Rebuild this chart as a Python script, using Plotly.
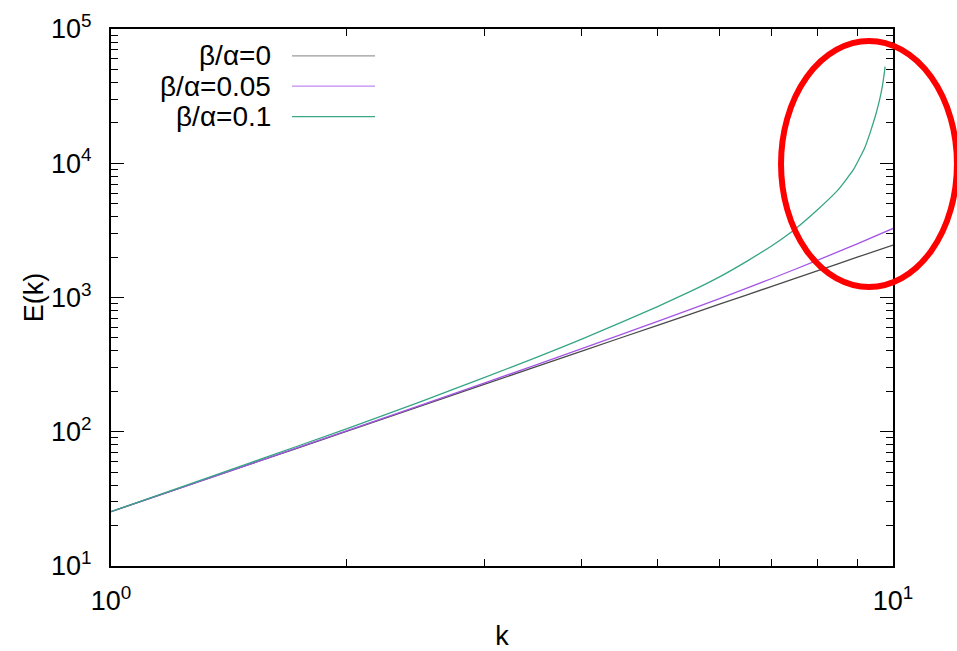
import plotly.graph_objects as go

# Energy spectrum E(k) for three ratios beta/alpha (log-log)
k_base = [1.0, 1.5, 2.0, 3.0, 4.0, 5.0, 6.0, 7.0, 8.0, 9.0, 10.0]
E_b0 = [25.4, 56.8, 100.6, 225, 399, 621, 892, 1211, 1579, 1995, 2460]
E_b005 = [25.4, 57.0, 101.5, 230, 416, 664, 982, 1385, 1890, 2510, 3270]

k_b01 = [1.0, 1.5, 2.0, 2.5, 3.0, 3.5, 4.0, 4.5, 5.0, 5.5, 6.0, 6.5, 7.0,
         7.5, 8.0, 8.5, 8.9, 9.2, 9.35, 9.5, 9.6, 9.65, 9.7, 9.75, 9.77]
E_b01 = [25.4, 58.2, 105, 169, 253, 358, 490, 655, 855, 1105, 1425, 1860,
         2430, 3240, 4480, 6300, 8950, 13000, 16900, 22800, 28800, 32800,
         38600, 47500, 52400]

series_names = ["β/α=0", "β/α=0.05", "β/α=0.1"]
series_colors = ["#4a4a4a", "#a455e6", "#35a585"]
key_colors = ["#9a9a9a", "#c08af0", "#3aa886"]

# x: ticks at every integer k, labels only at the decades
x_tickvals = [1, 2, 3, 4, 5, 6, 7, 8, 9, 10]
x_ticktext = ["10<sup>0</sup>", "", "", "", "", "", "", "", "", "10<sup>1</sup>"]
y_tickvals = [10, 100, 1000, 10000, 100000]
y_ticktext = ["10<sup>1</sup>", "10<sup>2</sup>", "10<sup>3</sup>",
              "10<sup>4</sup>", "10<sup>5</sup>"]
y_minor = [m * 10 ** d for d in range(1, 5) for m in range(2, 10)]

FONT = "Liberation Sans, Arial, sans-serif"

fig = go.Figure()
curves = [(k_base, E_b0), (k_base, E_b005), (k_b01, E_b01)]
for (kx, ey), name, col in zip(curves, series_names, series_colors):
    fig.add_trace(go.Scatter(
        x=kx, y=ey, mode="lines", name=name, showlegend=False,
        line=dict(color=col, width=1.3, shape="spline", smoothing=0.4),
    ))

# invisible anchor so the overlay axis carrying the minor y ticks is drawn
fig.add_trace(go.Scatter(
    x=[k_base[0]], y=[E_b0[0]], yaxis="y2", mode="markers",
    marker=dict(opacity=0), showlegend=False, hoverinfo="skip",
))

# gnuplot-style key: right-aligned labels with the line sample on the right
key_top, key_step = 0.950, 0.0565
for i, (name, col) in enumerate(zip(series_names, key_colors)):
    ry = key_top - i * key_step
    fig.add_annotation(
        x=0.207, y=ry, xref="paper", yref="paper", text=name,
        showarrow=False, xanchor="right", yanchor="middle",
        font=dict(family=FONT, size=28, color="black"),
    )
    fig.add_shape(
        type="line", xref="paper", yref="paper",
        x0=0.2315, x1=0.3376, y0=ry, y1=ry,
        line=dict(color=col, width=1.3),
    )

# red highlight ellipse around the diverging branch
fig.add_shape(
    type="circle", xref="paper", yref="paper",
    x0=0.8568, x1=1.0818, y0=0.5196, y1=0.9777,
    line=dict(color="#ff0000", width=6),
)

frame = dict(
    type="log", showgrid=False, zeroline=False,
    showline=True, linecolor="black", linewidth=2, mirror="ticks",
    ticks="inside", tickcolor="black", tickwidth=1.3, automargin=False,
    showspikes=False,
)

fig.update_layout(
    template="none",
    width=957, height=651,
    margin=dict(l=111, r=64, t=29, b=85),
    paper_bgcolor="white", plot_bgcolor="white",
    font=dict(family=FONT, color="black"),
    xaxis=dict(
        **frame, range=[0, 1], ticklen=7,
        tickvals=x_tickvals, ticktext=x_ticktext, ticklabelstandoff=10,
        tickfont=dict(family=FONT, size=27, color="black"),
        title=dict(text="k", font=dict(family=FONT, size=27, color="black"),
                   standoff=18),
    ),
    yaxis=dict(
        **frame, range=[1, 5], ticklen=13,
        tickvals=y_tickvals, ticktext=y_ticktext, ticklabelstandoff=12,
        tickfont=dict(family=FONT, size=27, color="black"),
        title=dict(text="E(k)", font=dict(family=FONT, size=27, color="black"),
                   standoff=0),
    ),
    yaxis2=dict(
        **frame, range=[1, 5], overlaying="y", anchor="x", side="left",
        ticklen=7, tickvals=y_minor, showticklabels=False,
    ),
)

fig.write_html("out.html")
